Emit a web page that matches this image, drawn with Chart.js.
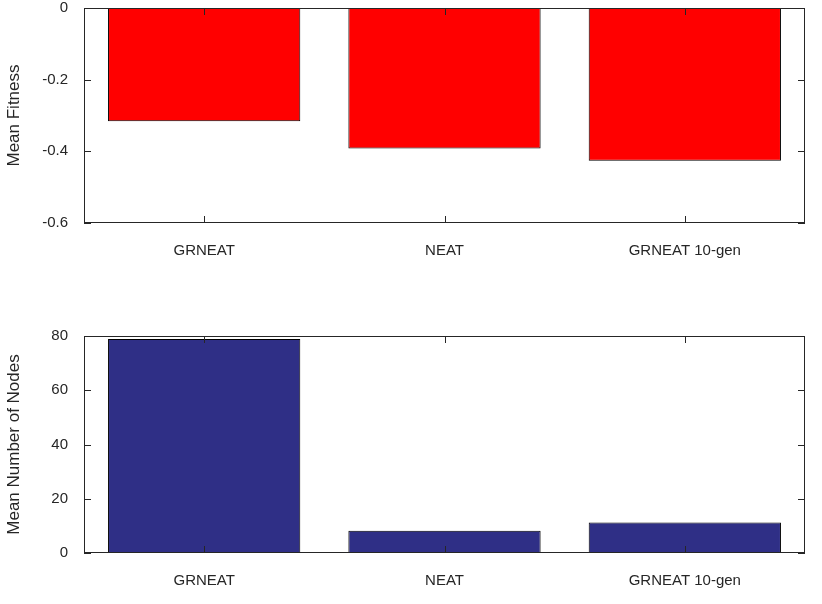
<!DOCTYPE html><html><head><script src="https://cdn.jsdelivr.net/npm/chart.js@4"></script>
<style>body{margin:0;background:#fff;overflow:hidden}canvas{position:absolute;left:0}</style></head><body>
<div style="position:absolute;left:0;top:-9px;width:822px;height:309px"><canvas id="c1"></canvas></div>
<div style="position:absolute;left:0;top:300px;width:822px;height:304px"><canvas id="c2"></canvas></div>
<script>
const categories=["GRNEAT","NEAT","GRNEAT 10-gen"];
const fitness=[-0.316,-0.392,-0.426];
const nodes=[78.9,8.2,11.2];
const fitnessTicks=[0,-0.2,-0.4,-0.6];
const nodeTicks=[0,20,40,60,80];
Chart.defaults.font.family="Liberation Sans, Arial, sans-serif";
Chart.defaults.font.size=15;
Chart.defaults.color="#262626";
const boxPlugin={id:'box',afterDatasetsDraw(ch){const a=ch.chartArea,c=ch.ctx;c.save();c.strokeStyle="#262626";c.lineWidth=1;
c.strokeRect(a.left+0.5,a.top+0.5,a.right-a.left-1,a.bottom-a.top-1);
const x=ch.scales.x,y=ch.scales.y;
x.ticks.forEach((t,i)=>{const p=Math.round(x.getPixelForTick(i))+0.5;c.beginPath();c.moveTo(p,a.bottom);c.lineTo(p,a.bottom-7);c.moveTo(p,a.top);c.lineTo(p,a.top+7);c.stroke();});
y.ticks.forEach((t,i)=>{const p=Math.round(y.getPixelForTick(i))+0.5;c.beginPath();c.moveTo(a.left,p);c.lineTo(a.left+7,p);c.moveTo(a.right,p);c.lineTo(a.right-7,p);c.stroke();});
c.restore();}};
function mk(id,data,color,min,max,step,title,pad,xh){
new Chart(document.getElementById(id),{type:'bar',data:{labels:categories,datasets:[{data:data,backgroundColor:color,borderColor:"#000",borderWidth:1,borderSkipped:false,categoryPercentage:0.8,barPercentage:1}]},
options:{responsive:true,maintainAspectRatio:false,animation:false,layout:{padding:pad},plugins:{legend:{display:false},tooltip:{enabled:false}},
scales:{x:{grid:{display:false},border:{display:false},ticks:{padding:11},afterFit(s){s.height=xh;}},
y:{min:min,max:max,grid:{display:false},border:{display:false},ticks:{stepSize:step,padding:8},
title:{display:true,text:title,font:{size:17},padding:{bottom:10}},afterFit(s){s.width=84;}}}},plugins:[boxPlugin]});}
mk('c1',fitness,"#ff0000",-0.6,0,0.2,"Mean Fitness",{top:7,right:17,left:0,bottom:0},77);
mk('c2',nodes,"#2f2f86",0,80,20,"Mean Number of Nodes",{top:36,right:17,left:0,bottom:0},51);
</script></body></html>
